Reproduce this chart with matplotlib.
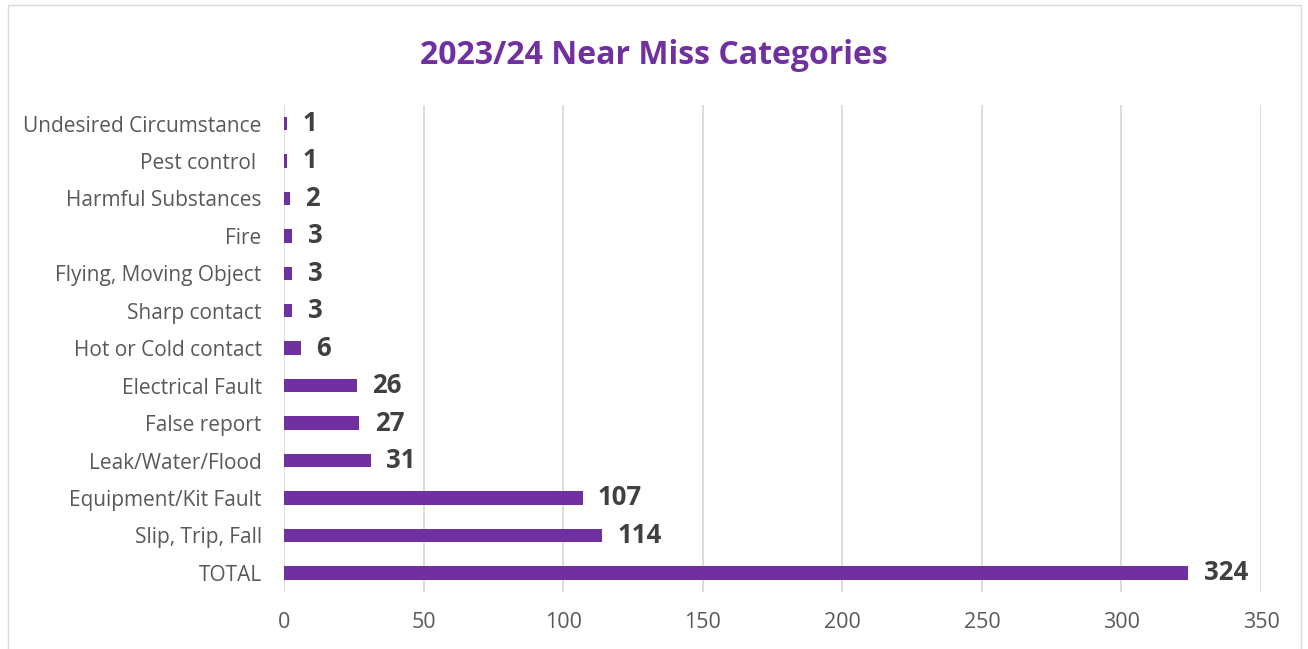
import matplotlib.pyplot as plt
from matplotlib.patches import Rectangle

categories = ['TOTAL', 'Slip, Trip, Fall', 'Equipment/Kit Fault', 'Leak/Water/Flood',
              'False report', 'Electrical Fault', 'Hot or Cold contact', 'Sharp contact',
              'Flying, Moving Object', 'Fire', 'Harmful Substances', 'Pest control ',
              'Undesired Circumstance']
counts = [324, 114, 107, 31, 27, 26, 6, 3, 3, 3, 2, 1, 1]
xticks = [0, 50, 100, 150, 200, 250, 300, 350]

purple = '#7030A0'
plt.rcParams['font.family'] = ['Open Sans', 'DejaVu Sans']

fig = plt.figure(figsize=(13.08, 6.49), dpi=100)
ax = fig.add_axes([0.2171, 0.0885, 0.747, 0.750])

ypos = list(range(len(categories)))
ax.barh(ypos, counts, height=0.36, color=purple, zorder=3)
for y, v in zip(ypos, counts):
    ax.text(v + 5.5, y, str(v), va='center', ha='left', fontsize=18.5,
            fontweight='bold', color='#404040')

ax.set_xlim(0, 350)
ax.set_ylim(-0.5, len(categories) - 0.5)
ax.set_xticks(xticks)
ax.set_yticks(ypos)
ax.set_yticklabels(categories)
ax.tick_params(axis='x', length=0, pad=14.5, labelsize=15.5, labelcolor='#595959')
ax.tick_params(axis='y', length=0, pad=16, labelsize=15, labelcolor='#595959')
ax.grid(axis='x', color='#d9d9d9', linewidth=1.3, zorder=0)
for s in ax.spines.values():
    s.set_visible(False)

fig.text(0.5, 0.914, '2023/24 Near Miss Categories', ha='center', va='center',
         fontsize=23, fontweight='bold', color=purple)

# chart frame
fig.patches.append(Rectangle((0.006, -0.01), 0.989, 1.002, transform=fig.transFigure,
                             fill=False, edgecolor='#d9d9d9', linewidth=1))

fig.savefig('out.png', dpi=100)
